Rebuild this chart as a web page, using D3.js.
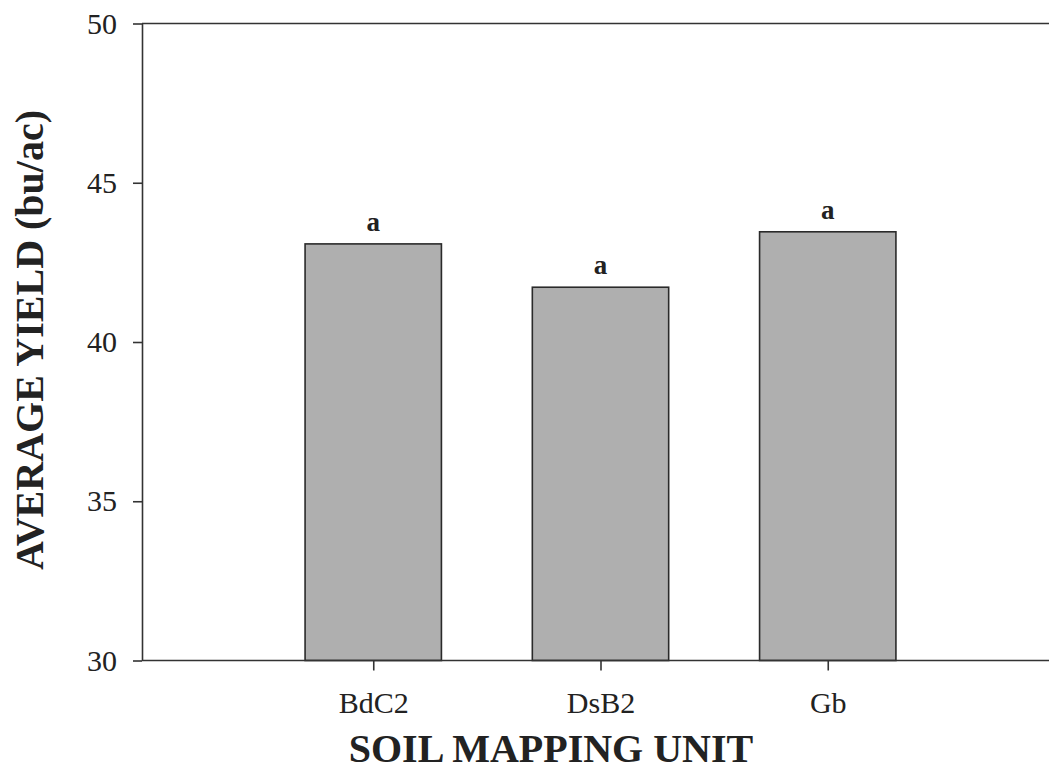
<!DOCTYPE html>
<html>
<head>
<meta charset="utf-8">
<script src="https://cdn.jsdelivr.net/npm/d3@7"></script>
<style>
  body { margin: 0; background: #fff; }
  svg { display: block; }
  text { font-family: "Liberation Serif", "Times New Roman", serif; fill: #222; }
</style>
</head>
<body>
<div id="chart"></div>
<script>
const units = ["BdC2", "DsB2", "Gb"];
const yields = [43.08, 41.72, 43.46];
const letters = ["a", "a", "a"];
const yTicks = [30, 35, 40, 45, 50];

const W = 1049, H = 772;
const margin = { top: 23.5, right: -5, bottom: 111.5, left: 142 };
const width = W - margin.left - margin.right,
  height = H - margin.top - margin.bottom;

const svg = d3.select("#chart")
  .append("svg")
  .attr("width", W)
  .attr("height", H);

const g = svg.append("g")
  .attr("transform", `translate(${margin.left},${margin.top})`);

const x = d3.scalePoint()
  .domain(units)
  .range([4, 913])
  .padding(1);

const y = d3.scaleLinear()
  .domain([30, 50])
  .range([height, 0]);

const barW = x.step() * 0.6;

// top frame line
g.append("line")
  .attr("x1", 0)
  .attr("x2", width)
  .attr("y1", 0)
  .attr("y2", 0)
  .attr("stroke", "#333")
  .attr("stroke-width", 1.6);

// bars
g.selectAll(".bar")
  .data(units)
  .join("rect")
  .attr("class", "bar")
  .attr("x", d => x(d) - barW / 2)
  .attr("width", barW)
  .attr("y", (d, i) => y(yields[i]))
  .attr("height", (d, i) => y(30) - y(yields[i]))
  .attr("fill", "#afafaf")
  .attr("stroke", "#2a2a2a")
  .attr("stroke-width", 1.6);

// significance letters
g.selectAll(".letter")
  .data(units)
  .join("text")
  .attr("class", "letter")
  .attr("x", d => x(d))
  .attr("y", (d, i) => y(yields[i]) - 13)
  .attr("text-anchor", "middle")
  .attr("font-size", 27)
  .attr("font-weight", "bold")
  .text((d, i) => letters[i]);

// axes
const xAxis = g.append("g")
  .attr("transform", `translate(0,${height})`)
  .call(d3.axisBottom(x).tickSize(10).tickSizeOuter(0).tickPadding(21));
xAxis.select(".domain").remove();
xAxis.append("line")
  .attr("x1", 0)
  .attr("x2", width);

const yAxis = g.append("g")
  .call(d3.axisLeft(y).tickValues(yTicks).tickSize(9).tickSizeOuter(0).tickPadding(16));

[xAxis, yAxis].forEach(a => {
  a.selectAll("path, line").attr("stroke", "#333").attr("stroke-width", 1.6);
  a.selectAll("text")
    .attr("font-size", 30)
    .attr("fill", "#222")
    .style("font-family", '"Liberation Serif", "Times New Roman", serif');
});

// axis titles
svg.append("text")
  .attr("x", 551)
  .attr("y", 762)
  .attr("text-anchor", "middle")
  .attr("font-size", 40)
  .attr("font-weight", "bold")
  .text("SOIL MAPPING UNIT");

svg.append("text")
  .attr("transform", "translate(43,340) rotate(-90)")
  .attr("text-anchor", "middle")
  .attr("font-size", 40)
  .attr("font-weight", "bold")
  .text("AVERAGE YIELD (bu/ac)");
</script>
</body>
</html>
